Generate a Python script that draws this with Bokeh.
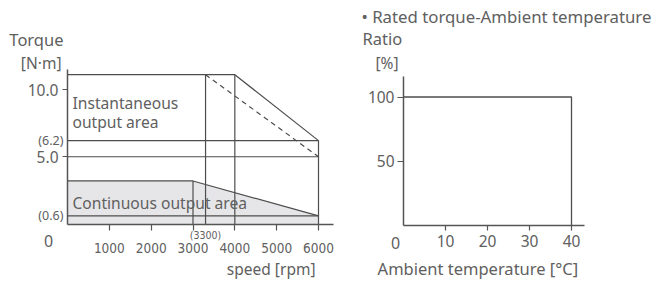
from bokeh.plotting import figure
from bokeh.models import Range1d, FixedTicker, Label
from bokeh.layouts import row
from bokeh.embed import file_html
from bokeh.resources import INLINE

# ---------------- data: speed-torque ----------------
peak_speed = [0, 4000, 6000]
peak_torque = [11.1, 11.1, 6.2]
dash_speed = [3300, 6000]
dash_torque = [11.1, 5.0]
cont_speed = [0, 3000, 6000]
cont_torque = [3.2, 3.2, 0.6]
level_torque = [6.2, 5.0, 0.6]
level_labels = ["(6.2)", "", "(0.6)"]
vline_speed = [3000, 3300, 4000, 6000]
vline_top = [3.2, 11.1, 11.1, 6.2]
speed_ticks = [1000, 2000, 3000, 4000, 5000, 6000]
torque_ticks = [5, 10]
torque_tick_labels = ["5.0", "10.0"]
speed_axis_end = 6360
torque_axis_end = 11.5

# ---------------- data: torque-temperature ----------------
temp = [0, 40, 40]
ratio = [100, 100, 0]
temp_ticks = [10, 20, 30, 40]
ratio_ticks = [50, 100]
temp_axis_end = 43.1
ratio_axis_end = 116

LINE = "#4d4d4d"
AXIS = "#555555"
TXT = "#606060"
FONT = "Noto Sans"
NARROW = "'DejaVu Sans Condensed', 'Liberation Sans Narrow', sans-serif"

W, H = 656, 281
SPLIT = 336

# pixel mapping of the left panel (page pixels)
LX0, LXS = 67.0, 251.0 / 6000     # x of speed 0, px per rpm
LY0, LYS = 223.5, 13.45           # y of torque 0, px per N·m
# pixel mapping of the right panel
RX0, RXS = 403.0, 4.2
RY0, RYS = 224.5, 1.28


def style_axis(ax, size, font=FONT, standoff=3, tick=5):
    ax.minor_tick_line_color = None
    ax.major_tick_in = 0
    ax.major_tick_out = tick
    ax.major_label_standoff = standoff
    ax.axis_line_color = AXIS
    ax.axis_line_width = 1.5
    ax.major_tick_line_color = AXIS
    ax.major_tick_line_width = 1.2
    ax.major_label_text_font = font
    ax.major_label_text_font_size = size
    ax.major_label_text_color = TXT


def add_label(fig, x, y, text, size, align="left", font=FONT):
    fig.add_layout(Label(x=x, y=y, text=text, text_font=font, text_font_size=size,
                         text_color=TXT, text_align=align, text_baseline="middle"))


# ---------- left figure ----------
p = figure(width=SPLIT, height=H, output_backend="svg", toolbar_location=None,
           x_range=Range1d(-LX0 / LXS, (SPLIT - LX0) / LXS),
           y_range=Range1d((LY0 - H) / LYS, LY0 / LYS),
           min_border=0, title=None)
p.grid.visible = False
p.outline_line_color = None

p.varea(x=cont_speed, y1=[0] * len(cont_speed), y2=cont_torque, fill_color="#e6e6e8")
p.segment(x0=[0] * len(level_torque), y0=level_torque, x1=[6000] * len(level_torque),
          y1=level_torque, line_color=LINE, line_width=1.2)
p.segment(x0=vline_speed, y0=[0] * len(vline_speed), x1=vline_speed, y1=vline_top,
          line_color=LINE, line_width=1.2)
p.line(peak_speed, peak_torque, line_color=LINE, line_width=1.2)
p.line(dash_speed, dash_torque, line_color=LINE, line_width=1.2, line_dash="5 4")
p.line(cont_speed, cont_torque, line_color=LINE, line_width=1.2)

xa = p.xaxis[0]
xa.fixed_location = 0
xa.bounds = (0, speed_axis_end)
xa.ticker = FixedTicker(ticks=speed_ticks)
style_axis(xa, "13.5px", NARROW, standoff=13, tick=6)

ya = p.yaxis[0]
ya.fixed_location = 0
ya.bounds = (0, torque_axis_end)
ya.ticker = FixedTicker(ticks=torque_ticks)
ya.major_label_overrides = {t: s for t, s in zip(torque_ticks, torque_tick_labels)}
style_axis(ya, "15.5px", FONT, standoff=4, tick=5)


def lx(px):
    return (px - LX0) / LXS


def ly(py):
    return (LY0 - py) / LYS


for t, s in zip(level_torque, level_labels):
    if s:
        add_label(p, lx(63), t, s, "12.5px", "right")
add_label(p, lx(63), ly(39), "Torque", "16.5px", "right")
add_label(p, lx(61), ly(62), "[N·m]", "15.5px", "right")
add_label(p, lx(48), ly(240), "0", "16px", "center")
add_label(p, 3300, ly(234), "(3300)", "10.5px", "center", NARROW)
add_label(p, lx(315), ly(268), "speed [rpm]", "15.5px", "right")
add_label(p, lx(72), ly(102), "Instantaneous", "15.6px")
add_label(p, lx(72), ly(121), "output area", "15.6px")
add_label(p, lx(72), ly(202), "Continuous output area", "15.6px")

# ---------- right figure ----------
q = figure(width=W - SPLIT, height=H, output_backend="svg", toolbar_location=None,
           x_range=Range1d((SPLIT - RX0) / RXS, (W - RX0) / RXS),
           y_range=Range1d((RY0 - H) / RYS, RY0 / RYS),
           min_border=0, title=None)
q.grid.visible = False
q.outline_line_color = None
q.line(temp, ratio, line_color=LINE, line_width=1.3)

qx = q.xaxis[0]
qx.fixed_location = 0
qx.bounds = (0, temp_axis_end)
qx.ticker = FixedTicker(ticks=temp_ticks)
style_axis(qx, "15.5px", FONT, standoff=5, tick=5)

qy = q.yaxis[0]
qy.fixed_location = 0
qy.bounds = (0, ratio_axis_end)
qy.ticker = FixedTicker(ticks=ratio_ticks)
style_axis(qy, "15.5px", FONT, standoff=3, tick=6)


def rx(px):
    return (px - RX0) / RXS


def ry(py):
    return (RY0 - py) / RYS


add_label(q, rx(361), ry(16), "• Rated torque-Ambient temperature", "16.8px")
add_label(q, rx(362), ry(38), "Ratio", "16.5px")
add_label(q, rx(375), ry(62), "[%]", "15.5px")
add_label(q, rx(395), ry(242), "0", "16px", "center")
add_label(q, rx(582), ry(268), "Ambient temperature  [°C]", "16.5px", "right")

layout = row(p, q)
open("out.html", "w").write(file_html(layout, INLINE))
